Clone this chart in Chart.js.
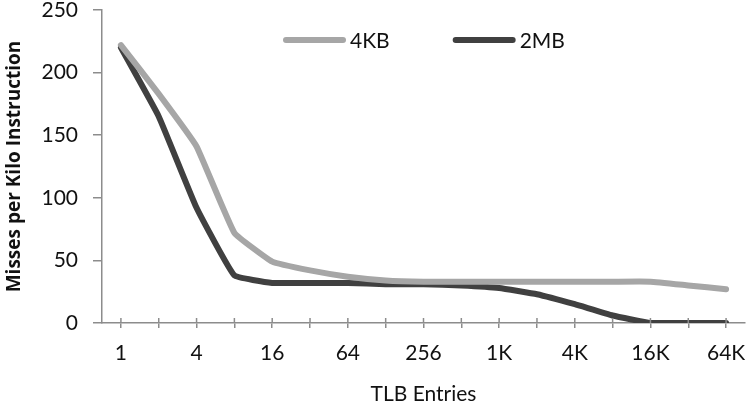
<!DOCTYPE html>
<html>
<head>
<meta charset="utf-8">
<script src="https://cdn.jsdelivr.net/npm/chart.js@4/dist/chart.umd.min.js"></script>
<style>
  html, body { margin: 0; padding: 0; background: #fff; }
  #wrap { width: 747px; height: 407px; }
</style>
</head>
<body>
<div id="wrap"><canvas id="chart"></canvas></div>
<script>
// TLB entries (every other one is labelled on the axis)
var entries = ['1', '2', '4', '8', '16', '32', '64', '128', '256', '512',
               '1K', '2K', '4K', '8K', '16K', '32K', '64K'];
var shownLabels = ['1', '4', '16', '64', '256', '1K', '4K', '16K', '64K'];

// misses per kilo instruction
var misses4KB = [222, 183, 141, 72, 49, 42, 37, 34, 33, 33, 33, 33, 33, 33, 33, 30, 27];
var misses2MB = [220, 165, 92, 38, 32, 32, 32, 31, 31, 30, 28, 23, 15, 6, 0, 0, 0];

var yTicks = [0, 50, 100, 150, 200, 250];

var fontFamily = "Lato, 'Open Sans', sans-serif";
var axisColor = '#8c8c8c';

// draws the upper half of the x tick marks (they cross the axis)
var crossTicks = {
    id: 'crossTicks',
    afterDraw: function (chart) {
        var xs = chart.scales.x;
        var ctx = chart.ctx;
        ctx.save();
        ctx.strokeStyle = axisColor;
        ctx.lineWidth = 1.5;
        for (var i = 0; i < xs.ticks.length; i++) {
            var px = xs.getPixelForTick(i);
            ctx.beginPath();
            ctx.moveTo(px, xs.top - 5);
            ctx.lineTo(px, xs.top);
            ctx.stroke();
        }
        ctx.restore();
    }
};

// legend sits inside the plot, near the top
var inlineLegend = {
    id: 'inlineLegend',
    afterDraw: function (chart) {
        var ctx = chart.ctx;
        var area = chart.chartArea;
        var lineLen = 57, textGap = 7, itemGap = 66;
        ctx.save();
        ctx.font = '21px ' + fontFamily;
        var x = area.left + 184;
        var y = area.top + 30;
        chart.data.datasets.forEach(function (ds) {
            ctx.strokeStyle = ds.borderColor;
            ctx.lineWidth = ds.borderWidth;
            ctx.lineCap = 'round';
            ctx.beginPath();
            ctx.moveTo(x, y);
            ctx.lineTo(x + lineLen, y);
            ctx.stroke();
            x += lineLen + textGap;
            ctx.fillStyle = '#111';
            ctx.textBaseline = 'middle';
            ctx.textAlign = 'left';
            ctx.fillText(ds.label, x, y + 1);
            x += ctx.measureText(ds.label).width + itemGap;
        });
        ctx.restore();
    }
};

var chart = new Chart(document.getElementById('chart'), {
    type: 'line',
    data: {
        labels: entries,
        datasets: [
            {
                label: '4KB',
                data: misses4KB,
                borderColor: '#a6a6a6',
                borderWidth: 6,
                borderCapStyle: 'round',
                borderJoinStyle: 'round',
                pointRadius: 0,
                tension: 0.1
            },
            {
                label: '2MB',
                data: misses2MB,
                borderColor: '#404040',
                borderWidth: 6,
                borderCapStyle: 'round',
                borderJoinStyle: 'round',
                pointRadius: 0,
                tension: 0.1
            }
        ]
    },
    plugins: [crossTicks, inlineLegend],
    options: {
        responsive: true,
        maintainAspectRatio: false,
        animation: false,
        layout: {
            padding: { top: 10, right: 2, left: 0, bottom: 0 }
        },
        plugins: {
            legend: { display: false },
            tooltip: { enabled: false }
        },
        scales: {
            x: {
                offset: true,
                grid: {
                    offset: false,
                    drawOnChartArea: false,
                    drawTicks: true,
                    tickLength: 5,
                    color: axisColor,
                    lineWidth: 1.5
                },
                border: { color: axisColor, width: 1.5 },
                ticks: {
                    autoSkip: false,
                    maxRotation: 0,
                    padding: 13,
                    color: '#111',
                    font: { family: fontFamily, size: 21 },
                    callback: function (value, index) {
                        var lab = entries[index];
                        return shownLabels.indexOf(lab) >= 0 ? lab : '';
                    }
                },
                title: {
                    display: true,
                    text: 'TLB Entries',
                    color: '#111',
                    font: { family: fontFamily, size: 21 },
                    padding: { top: 0, bottom: 0 }
                },
                afterFit: function (scale) {
                    scale.height = 84;
                    scale.paddingLeft = 0;
                    scale.paddingRight = 0;
                }
            },
            y: {
                min: 0,
                max: 250,
                grid: {
                    drawOnChartArea: false,
                    drawTicks: true,
                    tickLength: 9,
                    color: axisColor,
                    lineWidth: 1.5
                },
                border: { color: axisColor, width: 1.5 },
                afterBuildTicks: function (scale) {
                    scale.ticks = yTicks.map(function (v) { return { value: v }; });
                },
                ticks: {
                    padding: 15,
                    color: '#111',
                    font: { family: fontFamily, size: 21 }
                },
                title: {
                    display: true,
                    text: 'Misses per Kilo Instruction',
                    color: '#111',
                    font: { family: "'Open Sans', sans-serif", size: 19, weight: 'bold' },
                    padding: { top: 3, bottom: 0 }
                },
                afterFit: function (scale) {
                    scale.width = 102;
                    scale.paddingTop = 0;
                    scale.paddingBottom = 0;
                }
            }
        }
    }
});
</script>
</body>
</html>
